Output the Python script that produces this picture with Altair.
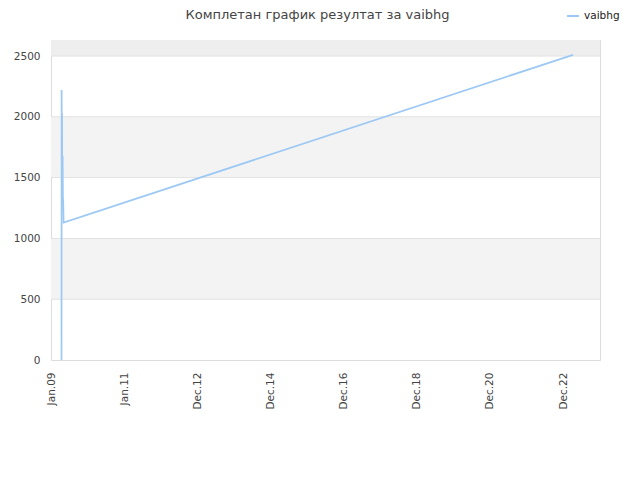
import altair as alt
import pandas as pd

series_name = "vaibhg"
dates = ["2009-04-16", "2009-04-17", "2009-04-19", "2009-04-21", "2009-04-24",
         "2009-04-27", "2009-04-30", "2009-05-03", "2009-05-07", "2023-04-07"]
values = [0, 2220, 1700, 2030, 1320, 1680, 1330, 1310, 1130, 2510]

band_lo = [500, 1500, 2500]
band_hi = [1000, 2000, 2632]
band_col = ["#f3f3f3", "#f3f3f3", "#eeeeee"]
grid_vals = [500, 1000, 1500, 2000, 2500]
y_ticks = [0, 500, 1000, 1500, 2000, 2500]
tick_dates = ["2009-01-01", "2011-01-01", "2012-12-31", "2014-12-31",
              "2016-12-30", "2018-12-30", "2020-12-29", "2022-12-29"]

df = pd.DataFrame({"date": pd.to_datetime(dates), "value": values, "series": series_name})
bands = pd.DataFrame({"lo": band_lo, "hi": band_hi, "col": band_col})
grid = pd.DataFrame({"v": grid_vals})

xdom = [pd.Timestamp("2009-01-01").isoformat(), pd.Timestamp("2024-01-01").isoformat()]
ydom = [0, 2632]

xscale = alt.Scale(domain=xdom)
yscale = alt.Scale(domain=ydom, nice=False, zero=True)

yaxis = alt.Axis(values=y_ticks, format="d", labelFontSize=10.5, labelColor="#444444",
                 labelFont="DejaVu Sans", ticks=False, domain=False, grid=False,
                 labelPadding=11, labelFlush=False)
xaxis = alt.Axis(values=[pd.Timestamp(d).isoformat() for d in tick_dates],
                 format="%b.%y", labelAngle=-90, labelFontSize=10.5,
                 labelColor="#444444", labelFont="DejaVu Sans",
                 ticks=False, domain=False, grid=False, labelPadding=12,
                 labelFlush=False)

band_layer = alt.Chart(bands).mark_rect().encode(
    y=alt.Y("lo:Q", scale=yscale, axis=yaxis, title=None),
    y2="hi:Q",
    fill=alt.Fill("col:N", scale=None, legend=None),
)

grid_layer = alt.Chart(grid).mark_rule(color="#e2e2e2", strokeWidth=1).encode(
    y=alt.Y("v:Q", scale=yscale, axis=yaxis, title=None),
)

line_layer = alt.Chart(df).mark_line(strokeWidth=1.7, interpolate="linear").encode(
    x=alt.X("date:T", scale=xscale, title=None, axis=xaxis),
    y=alt.Y("value:Q", scale=yscale, title=None, axis=yaxis),
    color=alt.Color("series:N", scale=alt.Scale(range=["#9cc8f4"]),
                    legend=alt.Legend(title=None, orient="none", legendX=515, legendY=-31,
                                      symbolType="stroke", symbolStrokeWidth=2,
                                      symbolSize=140, labelFontSize=10.5,
                                      labelFont="DejaVu Sans", labelColor="#222222")),
)

chart = alt.layer(band_layer, grid_layer, line_layer).resolve_scale(
    color="independent"
).properties(
    width=549,
    height=320,
    autosize=alt.AutoSizeParams(type="none"),
    padding={"left": 43, "top": 32, "right": 20, "bottom": 90},
    title=alt.Title("Комплетан график резултат за vaibhg", fontSize=13,
                    font="DejaVu Sans", fontWeight="normal", color="#444444",
                    anchor="middle", offset=-13, dx=-8),
).configure_view(stroke="#dddddd", strokeWidth=1)

chart.save("out.html", embed_options={"renderer": "svg", "actions": False})
